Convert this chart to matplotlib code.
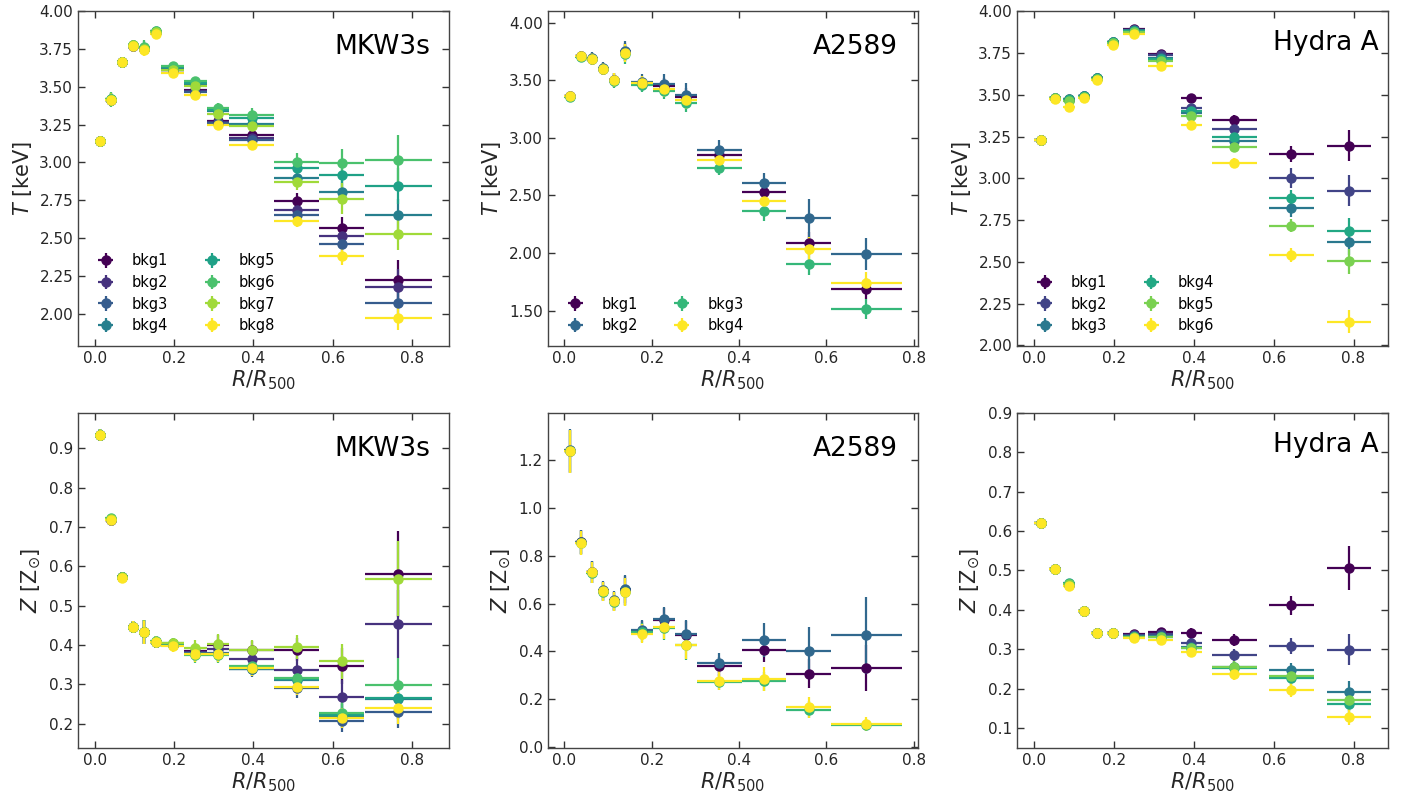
import numpy as np
import matplotlib
matplotlib.use("Agg")
import matplotlib.pyplot as plt
from matplotlib.ticker import MultipleLocator, FormatStrFormatter

# ---------------- data ----------------
# MKW3s
r_mkw = [0.012, 0.040, 0.069, 0.097, 0.125, 0.154, 0.196, 0.253, 0.3105, 0.3955, 0.509, 0.623, 0.766]
rerr_mkw = [0.012, 0.014, 0.014, 0.014, 0.014, 0.014, 0.028, 0.029, 0.0285, 0.0565, 0.057, 0.057, 0.085]

T_mkw_bkg1 = [3.140, 3.415, 3.663, 3.773, 3.750, 3.860, 3.612, 3.477, 3.274, 3.180, 2.745, 2.567, 2.221]
T_mkw_bkg2 = [3.140, 3.415, 3.663, 3.773, 3.750, 3.860, 3.610, 3.473, 3.268, 3.162, 2.688, 2.512, 2.176]
T_mkw_bkg3 = [3.140, 3.415, 3.663, 3.773, 3.750, 3.860, 3.608, 3.466, 3.263, 3.151, 2.650, 2.459, 2.071]
T_mkw_bkg4 = [3.141, 3.416, 3.664, 3.774, 3.752, 3.862, 3.620, 3.517, 3.339, 3.257, 2.900, 2.805, 2.655]
T_mkw_bkg5 = [3.141, 3.417, 3.665, 3.775, 3.755, 3.866, 3.628, 3.526, 3.350, 3.297, 2.966, 2.920, 2.845]
T_mkw_bkg6 = [3.142, 3.418, 3.666, 3.776, 3.760, 3.872, 3.636, 3.539, 3.360, 3.312, 3.003, 2.997, 3.019]
T_mkw_bkg7 = [3.141, 3.416, 3.664, 3.774, 3.752, 3.862, 3.614, 3.504, 3.318, 3.240, 2.871, 2.761, 2.529]
T_mkw_bkg8 = [3.140, 3.414, 3.662, 3.772, 3.745, 3.852, 3.592, 3.444, 3.250, 3.118, 2.613, 2.379, 1.971]

Terr_mkw_bkg1 = [0.01, 0.04, 0.015, 0.015, 0.04, 0.02, 0.02, 0.025, 0.03, 0.04, 0.055, 0.07, 0.136]
Terr_mkw_bkg2 = [0.01, 0.04, 0.015, 0.015, 0.04, 0.02, 0.02, 0.025, 0.03, 0.04, 0.05, 0.07, 0.12]
Terr_mkw_bkg3 = [0.01, 0.04, 0.015, 0.015, 0.04, 0.02, 0.02, 0.025, 0.03, 0.04, 0.05, 0.07, 0.10]
Terr_mkw_bkg4 = [0.01, 0.04, 0.015, 0.015, 0.04, 0.02, 0.02, 0.025, 0.03, 0.04, 0.05, 0.07, 0.10]
Terr_mkw_bkg5 = [0.01, 0.045, 0.015, 0.015, 0.045, 0.02, 0.02, 0.025, 0.03, 0.045, 0.055, 0.08, 0.12]
Terr_mkw_bkg6 = [0.01, 0.05, 0.015, 0.015, 0.05, 0.02, 0.02, 0.025, 0.03, 0.045, 0.06, 0.09, 0.16]
Terr_mkw_bkg7 = [0.01, 0.04, 0.015, 0.015, 0.04, 0.02, 0.02, 0.025, 0.03, 0.04, 0.05, 0.10, 0.11]
Terr_mkw_bkg8 = [0.01, 0.04, 0.015, 0.015, 0.04, 0.02, 0.02, 0.025, 0.03, 0.035, 0.04, 0.06, 0.08]

Z_mkw_bkg1 = [0.934, 0.719, 0.572, 0.446, 0.433, 0.408, 0.401, 0.385, 0.400, 0.386, 0.388, 0.347, 0.580]
Z_mkw_bkg2 = [0.934, 0.719, 0.572, 0.446, 0.433, 0.408, 0.400, 0.383, 0.389, 0.364, 0.337, 0.267, 0.454]
Z_mkw_bkg3 = [0.934, 0.719, 0.572, 0.446, 0.433, 0.408, 0.399, 0.380, 0.380, 0.338, 0.290, 0.206, 0.229]
Z_mkw_bkg4 = [0.934, 0.720, 0.572, 0.446, 0.433, 0.408, 0.400, 0.378, 0.378, 0.340, 0.310, 0.220, 0.262]
Z_mkw_bkg5 = [0.934, 0.721, 0.572, 0.446, 0.433, 0.408, 0.402, 0.378, 0.376, 0.343, 0.313, 0.223, 0.264]
Z_mkw_bkg6 = [0.935, 0.723, 0.573, 0.447, 0.434, 0.409, 0.404, 0.375, 0.374, 0.346, 0.316, 0.227, 0.297]
Z_mkw_bkg7 = [0.934, 0.720, 0.572, 0.446, 0.433, 0.408, 0.404, 0.392, 0.403, 0.388, 0.395, 0.358, 0.569]
Z_mkw_bkg8 = [0.933, 0.718, 0.571, 0.445, 0.432, 0.407, 0.397, 0.376, 0.377, 0.341, 0.292, 0.214, 0.240]

Zerr_mkw_bkg1 = [0.015, 0.01, 0.01, 0.015, 0.03, 0.015, 0.015, 0.02, 0.025, 0.025, 0.03, 0.045, 0.110]
Zerr_mkw_bkg2 = [0.015, 0.01, 0.01, 0.015, 0.03, 0.015, 0.015, 0.02, 0.025, 0.025, 0.03, 0.045, 0.087]
Zerr_mkw_bkg3 = [0.015, 0.01, 0.01, 0.015, 0.03, 0.015, 0.015, 0.02, 0.02, 0.02, 0.025, 0.028, 0.040]
Zerr_mkw_bkg4 = [0.015, 0.01, 0.01, 0.015, 0.03, 0.015, 0.015, 0.02, 0.02, 0.02, 0.025, 0.03, 0.050]
Zerr_mkw_bkg5 = [0.015, 0.01, 0.01, 0.015, 0.03, 0.015, 0.015, 0.02, 0.02, 0.02, 0.025, 0.03, 0.050]
Zerr_mkw_bkg6 = [0.015, 0.01, 0.01, 0.015, 0.03, 0.015, 0.015, 0.02, 0.02, 0.02, 0.025, 0.03, 0.070]
Zerr_mkw_bkg7 = [0.015, 0.01, 0.01, 0.015, 0.03, 0.015, 0.015, 0.02, 0.025, 0.025, 0.03, 0.045, 0.095]
Zerr_mkw_bkg8 = [0.015, 0.01, 0.01, 0.015, 0.03, 0.015, 0.015, 0.02, 0.02, 0.02, 0.02, 0.025, 0.040]

# A2589
r_a = [0.0125, 0.0375, 0.063, 0.0885, 0.114, 0.1395, 0.178, 0.229, 0.279, 0.355, 0.457, 0.559, 0.691]
rerr_a = [0.0125, 0.0125, 0.013, 0.0125, 0.0125, 0.0125, 0.026, 0.025, 0.025, 0.051, 0.051, 0.051, 0.081]

T_a_bkg1 = [3.360, 3.708, 3.688, 3.600, 3.500, 3.745, 3.470, 3.448, 3.355, 2.850, 2.532, 2.084, 1.690]
T_a_bkg2 = [3.362, 3.712, 3.692, 3.605, 3.505, 3.754, 3.486, 3.465, 3.376, 2.893, 2.604, 2.301, 1.988]
T_a_bkg3 = [3.358, 3.705, 3.684, 3.598, 3.497, 3.725, 3.457, 3.405, 3.303, 2.740, 2.364, 1.905, 1.512]
T_a_bkg4 = [3.360, 3.708, 3.688, 3.600, 3.500, 3.737, 3.477, 3.422, 3.327, 2.806, 2.454, 2.035, 1.743]

Terr_a_bkg1 = [0.03, 0.04, 0.05, 0.05, 0.06, 0.08, 0.06, 0.07, 0.08, 0.07, 0.08, 0.10, 0.09]
Terr_a_bkg2 = [0.03, 0.04, 0.05, 0.05, 0.06, 0.09, 0.07, 0.09, 0.10, 0.09, 0.09, 0.17, 0.14]
Terr_a_bkg3 = [0.03, 0.04, 0.05, 0.05, 0.06, 0.08, 0.06, 0.07, 0.08, 0.06, 0.09, 0.10, 0.09]
Terr_a_bkg4 = [0.03, 0.04, 0.05, 0.05, 0.06, 0.08, 0.06, 0.07, 0.08, 0.07, 0.08, 0.10, 0.09]

Z_a_bkg1 = [1.236, 0.856, 0.731, 0.652, 0.610, 0.655, 0.487, 0.533, 0.468, 0.338, 0.408, 0.308, 0.331]
Z_a_bkg2 = [1.240, 0.858, 0.733, 0.655, 0.613, 0.661, 0.491, 0.536, 0.473, 0.352, 0.447, 0.404, 0.468]
Z_a_bkg3 = [1.236, 0.854, 0.729, 0.650, 0.608, 0.648, 0.480, 0.498, 0.426, 0.273, 0.276, 0.157, 0.092]
Z_a_bkg4 = [1.236, 0.855, 0.730, 0.651, 0.609, 0.649, 0.475, 0.503, 0.429, 0.278, 0.287, 0.167, 0.097]

Zerr_a_bkg1 = [0.09, 0.05, 0.045, 0.04, 0.04, 0.06, 0.04, 0.05, 0.06, 0.04, 0.05, 0.06, 0.095]
Zerr_a_bkg2 = [0.09, 0.05, 0.045, 0.04, 0.04, 0.06, 0.04, 0.05, 0.06, 0.04, 0.07, 0.10, 0.160]
Zerr_a_bkg3 = [0.09, 0.05, 0.045, 0.04, 0.04, 0.06, 0.04, 0.05, 0.06, 0.035, 0.04, 0.035, 0.025]
Zerr_a_bkg4 = [0.09, 0.05, 0.045, 0.04, 0.04, 0.06, 0.04, 0.05, 0.06, 0.04, 0.05, 0.045, 0.030]

# Hydra A
r_h = [0.0166, 0.054, 0.089, 0.125, 0.159, 0.197, 0.251, 0.3175, 0.394, 0.502, 0.6445, 0.789]
rerr_h = [0.0166, 0.015, 0.015, 0.015, 0.015, 0.015, 0.028, 0.0315, 0.027, 0.056, 0.0555, 0.055]

T_h_bkg1 = [3.232, 3.480, 3.472, 3.490, 3.600, 3.816, 3.896, 3.746, 3.482, 3.350, 3.146, 3.196]
T_h_bkg2 = [3.232, 3.480, 3.470, 3.490, 3.600, 3.815, 3.890, 3.736, 3.420, 3.296, 3.002, 2.926]
T_h_bkg3 = [3.232, 3.480, 3.468, 3.490, 3.598, 3.813, 3.885, 3.722, 3.390, 3.222, 2.820, 2.616]
T_h_bkg4 = [3.232, 3.480, 3.472, 3.490, 3.598, 3.813, 3.882, 3.712, 3.402, 3.250, 2.880, 2.686]
T_h_bkg5 = [3.232, 3.478, 3.462, 3.488, 3.595, 3.810, 3.878, 3.700, 3.370, 3.190, 2.716, 2.502]
T_h_bkg6 = [3.230, 3.476, 3.426, 3.482, 3.586, 3.800, 3.862, 3.670, 3.320, 3.090, 2.540, 2.142]

Terr_h_bkg1 = [0.01, 0.01, 0.012, 0.012, 0.012, 0.012, 0.015, 0.02, 0.025, 0.03, 0.050, 0.094]
Terr_h_bkg2 = [0.01, 0.01, 0.012, 0.012, 0.012, 0.012, 0.015, 0.02, 0.025, 0.03, 0.058, 0.094]
Terr_h_bkg3 = [0.01, 0.01, 0.012, 0.012, 0.012, 0.012, 0.015, 0.02, 0.025, 0.03, 0.050, 0.075]
Terr_h_bkg4 = [0.01, 0.01, 0.012, 0.012, 0.012, 0.012, 0.015, 0.02, 0.025, 0.03, 0.050, 0.075]
Terr_h_bkg5 = [0.01, 0.01, 0.012, 0.012, 0.012, 0.012, 0.015, 0.02, 0.025, 0.03, 0.040, 0.072]
Terr_h_bkg6 = [0.01, 0.01, 0.012, 0.012, 0.012, 0.012, 0.015, 0.02, 0.025, 0.03, 0.040, 0.068]

Z_h_bkg1 = [0.621, 0.504, 0.462, 0.397, 0.342, 0.342, 0.339, 0.343, 0.340, 0.324, 0.411, 0.506]
Z_h_bkg2 = [0.621, 0.504, 0.464, 0.397, 0.342, 0.342, 0.336, 0.338, 0.317, 0.286, 0.309, 0.299]
Z_h_bkg3 = [0.621, 0.504, 0.466, 0.397, 0.342, 0.342, 0.333, 0.333, 0.306, 0.256, 0.246, 0.190]
Z_h_bkg4 = [0.621, 0.504, 0.467, 0.397, 0.342, 0.342, 0.332, 0.331, 0.303, 0.252, 0.226, 0.162]
Z_h_bkg5 = [0.621, 0.504, 0.466, 0.397, 0.342, 0.342, 0.331, 0.330, 0.302, 0.254, 0.231, 0.172]
Z_h_bkg6 = [0.620, 0.503, 0.461, 0.396, 0.341, 0.341, 0.328, 0.323, 0.293, 0.238, 0.196, 0.127]

Zerr_h_bkg1 = [0.006, 0.006, 0.007, 0.007, 0.007, 0.007, 0.008, 0.01, 0.013, 0.015, 0.025, 0.055]
Zerr_h_bkg2 = [0.006, 0.006, 0.007, 0.007, 0.007, 0.007, 0.008, 0.01, 0.013, 0.015, 0.020, 0.040]
Zerr_h_bkg3 = [0.006, 0.006, 0.007, 0.007, 0.007, 0.007, 0.008, 0.01, 0.013, 0.015, 0.020, 0.030]
Zerr_h_bkg4 = [0.006, 0.006, 0.007, 0.007, 0.007, 0.007, 0.008, 0.01, 0.013, 0.015, 0.020, 0.030]
Zerr_h_bkg5 = [0.006, 0.006, 0.007, 0.007, 0.007, 0.007, 0.008, 0.01, 0.013, 0.015, 0.020, 0.030]
Zerr_h_bkg6 = [0.006, 0.006, 0.007, 0.007, 0.007, 0.007, 0.008, 0.01, 0.013, 0.015, 0.018, 0.020]

cluster_names = ["MKW3s", "A2589", "Hydra A"]

# ---------------- plotting ----------------
plt.rcParams['font.family'] = ['DejaVu Sans']
plt.rcParams['mathtext.fontset'] = 'dejavusans'
text_col = '#262626'

fig, axes = plt.subplots(2, 3, figsize=(14.03, 8.0), dpi=100)
fig.subplots_adjust(left=0.0556, right=0.9893, top=0.986, bottom=0.065,
                    wspace=0.2657, hspace=0.1994)

panels = [
    (0, 0, r_mkw, rerr_mkw,
     [T_mkw_bkg1, T_mkw_bkg2, T_mkw_bkg3, T_mkw_bkg4, T_mkw_bkg5, T_mkw_bkg6, T_mkw_bkg7, T_mkw_bkg8],
     [Terr_mkw_bkg1, Terr_mkw_bkg2, Terr_mkw_bkg3, Terr_mkw_bkg4, Terr_mkw_bkg5, Terr_mkw_bkg6, Terr_mkw_bkg7, Terr_mkw_bkg8]),
    (0, 1, r_a, rerr_a,
     [T_a_bkg1, T_a_bkg2, T_a_bkg3, T_a_bkg4],
     [Terr_a_bkg1, Terr_a_bkg2, Terr_a_bkg3, Terr_a_bkg4]),
    (0, 2, r_h, rerr_h,
     [T_h_bkg1, T_h_bkg2, T_h_bkg3, T_h_bkg4, T_h_bkg5, T_h_bkg6],
     [Terr_h_bkg1, Terr_h_bkg2, Terr_h_bkg3, Terr_h_bkg4, Terr_h_bkg5, Terr_h_bkg6]),
    (1, 0, r_mkw, rerr_mkw,
     [Z_mkw_bkg1, Z_mkw_bkg2, Z_mkw_bkg3, Z_mkw_bkg4, Z_mkw_bkg5, Z_mkw_bkg6, Z_mkw_bkg7, Z_mkw_bkg8],
     [Zerr_mkw_bkg1, Zerr_mkw_bkg2, Zerr_mkw_bkg3, Zerr_mkw_bkg4, Zerr_mkw_bkg5, Zerr_mkw_bkg6, Zerr_mkw_bkg7, Zerr_mkw_bkg8]),
    (1, 1, r_a, rerr_a,
     [Z_a_bkg1, Z_a_bkg2, Z_a_bkg3, Z_a_bkg4],
     [Zerr_a_bkg1, Zerr_a_bkg2, Zerr_a_bkg3, Zerr_a_bkg4]),
    (1, 2, r_h, rerr_h,
     [Z_h_bkg1, Z_h_bkg2, Z_h_bkg3, Z_h_bkg4, Z_h_bkg5, Z_h_bkg6],
     [Zerr_h_bkg1, Zerr_h_bkg2, Zerr_h_bkg3, Zerr_h_bkg4, Zerr_h_bkg5, Zerr_h_bkg6]),
]

ylims = {(0, 0): (1.785, 4.0), (0, 1): (1.19, 4.10), (0, 2): (1.995, 4.0),
         (1, 0): (0.138, 0.99), (1, 1): (-0.003, 1.396), (1, 2): (0.049, 0.90)}
ysteps = {(0, 0): 0.25, (0, 1): 0.5, (0, 2): 0.25,
          (1, 0): 0.1, (1, 1): 0.2, (1, 2): 0.1}
name_pos = {0: (0.69, 0.893), 1: (0.716, 0.893), 2: (0.69, 0.905)}

for row, col, r, rerr, vals, errs in panels:
    ax = axes[row, col]
    n = len(vals)
    colors = plt.cm.viridis(np.linspace(0, 1, n))
    for i in range(n):
        ax.errorbar(r, vals[i], xerr=rerr, yerr=errs[i], fmt='o', color=colors[i],
                    ms=6.5, elinewidth=1.6, capsize=0, label=f"bkg{i + 1}")
    ax.set_ylim(*ylims[(row, col)])
    ax.yaxis.set_major_locator(MultipleLocator(ysteps[(row, col)]))
    ax.xaxis.set_major_locator(MultipleLocator(0.2))
    if row == 0:
        ax.yaxis.set_major_formatter(FormatStrFormatter('%.2f'))
        ax.set_ylabel(r"$T$ [keV]", fontsize=15, color=text_col, labelpad=4)
        ax.legend(loc='lower left', ncol=2, frameon=False, fontsize=10.5,
                  handletextpad=0.8, columnspacing=2.0, labelspacing=0.45)
    else:
        ax.yaxis.set_major_formatter(FormatStrFormatter('%.1f'))
        ax.set_ylabel(r"$Z$ [Z$_{\odot}$]", fontsize=15, color=text_col, labelpad=4)
    ax.set_xlabel(r"$R/R_{500}$", fontsize=15, color=text_col, labelpad=2)
    ax.tick_params(direction='in', top=True, right=True, length=5, width=1,
                   labelsize=11, labelcolor=text_col, color='#333333')
    for sp in ax.spines.values():
        sp.set_color('#444444')
        sp.set_linewidth(1.0)
    px, py = name_pos[col]
    ax.text(px, py, cluster_names[col], transform=ax.transAxes, fontsize=19,
            ha='left', va='center', color='black')

fig.savefig("out.png", dpi=100)
